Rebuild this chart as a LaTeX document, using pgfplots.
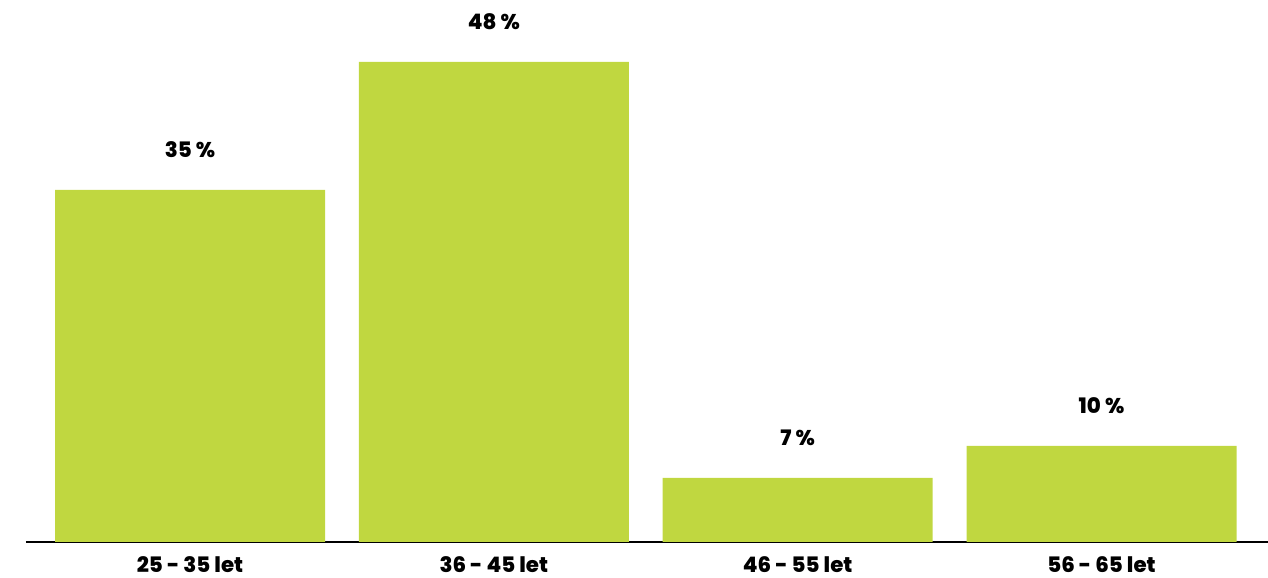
\documentclass[border=0pt]{standalone}
\usepackage{pgfplots}
\pgfplotsset{compat=1.18}
\usepackage{fontspec}
\setmainfont{Poppins}[BoldFont={Poppins ExtraBold}]
\definecolor{barlime}{RGB}{192,215,64}

\begin{document}
\begin{tikzpicture}
\useasboundingbox (-19.5pt,-27pt) rectangle (931.5pt,406.5pt);
\begin{axis}[
  scale only axis,
  width=931.5pt, height=406.5pt,
  xmin=-0.5398, xmax=3.548,
  ymin=0, ymax=54.2,
  axis y line=none,
  axis x line*=bottom,
  x axis line style={line width=1.5pt, -},
  xtick={0,1,2,3},
  xticklabels={25 - 35 let, 36 - 45 let, 46 - 55 let, 56 - 65 let},
  major tick length=0pt,
  xticklabel style={anchor=base, yshift=-23pt, font=\fontsize{16}{18}\selectfont\bfseries},
  ybar, bar width=202.5pt,
  clip=false,
  nodes near coords,
  point meta=explicit symbolic,
  every node near coord/.append style={anchor=base, yshift=24pt, font=\fontsize{16}{18}\selectfont\bfseries},
]
\addplot[fill=barlime, draw=none] coordinates {
  (0,35.2) [35 \%]
  (1,48.0) [48 \%]
  (2,6.4)  [7 \%]
  (3,9.6)  [10 \%]
};
\end{axis}
\end{tikzpicture}
\end{document}
